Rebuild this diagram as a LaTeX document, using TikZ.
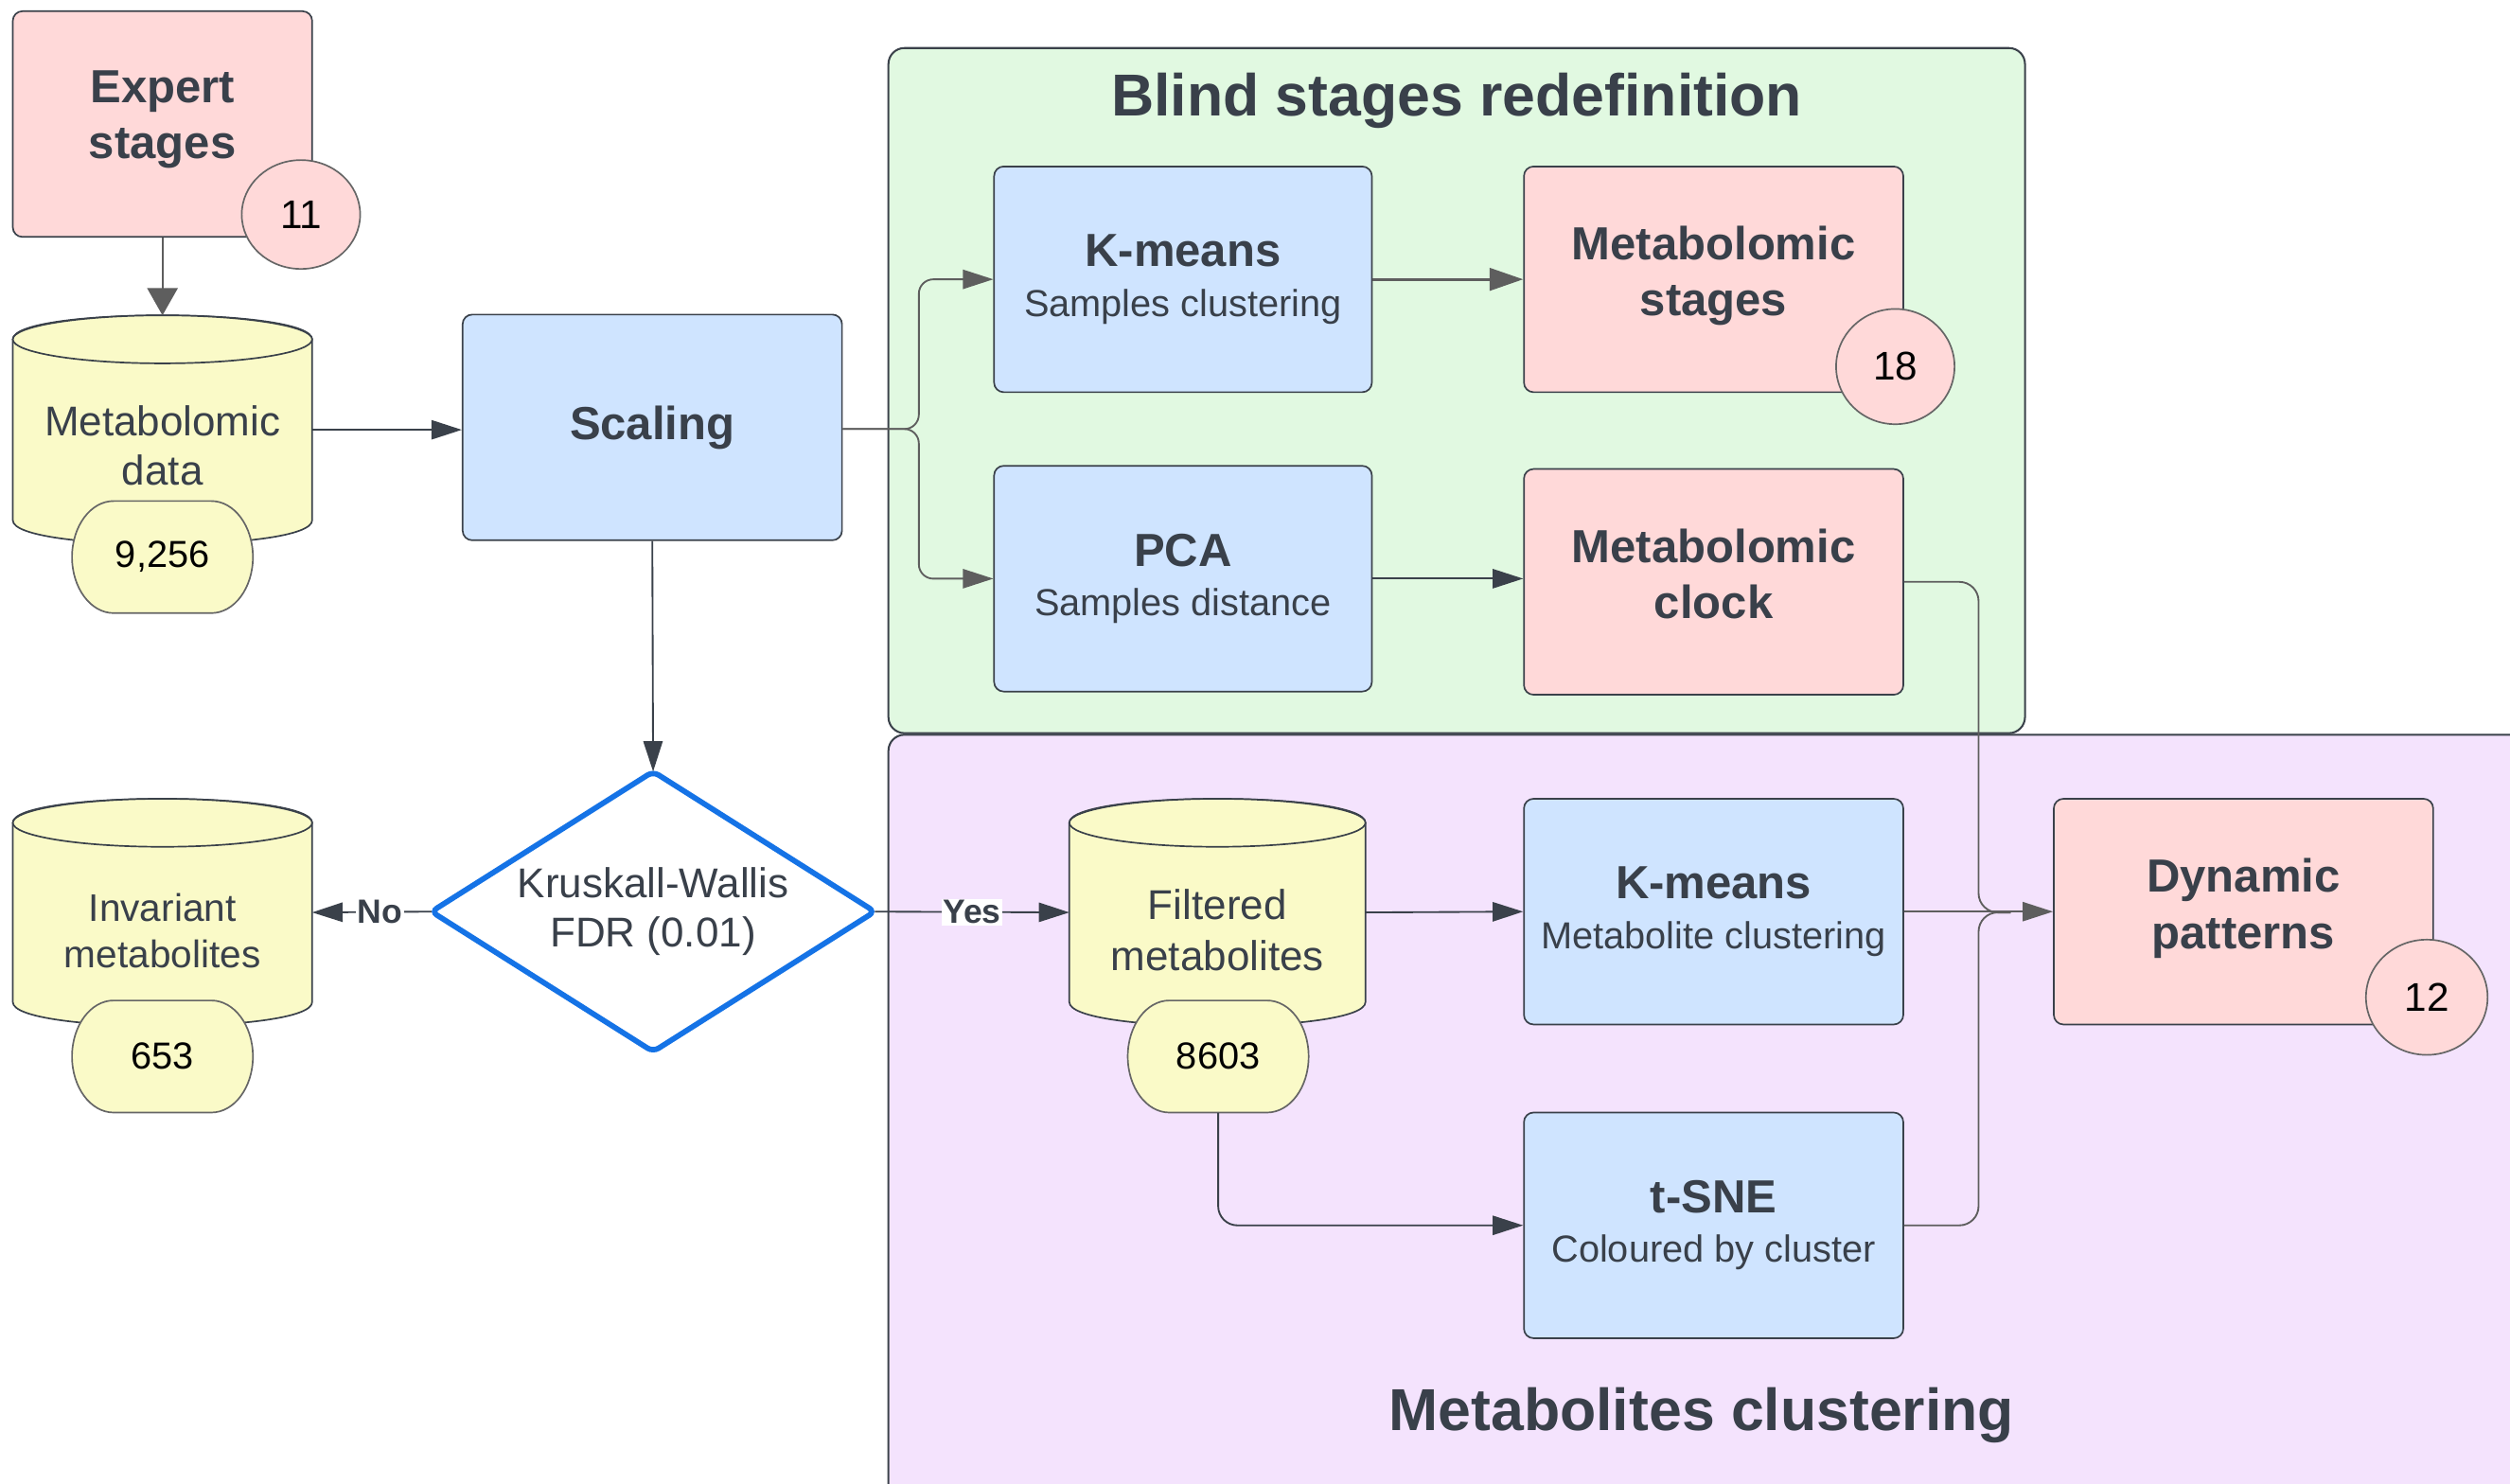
\documentclass[tikz,border=0pt]{standalone}
\usepackage{fontspec}
\setmainfont{Liberation Sans}
\usetikzlibrary{shapes.geometric,arrows.meta}
\definecolor{pinkc}{HTML}{FFD9D9}
\definecolor{bluec}{HTML}{CFE4FF}
\definecolor{yellowc}{HTML}{FAFAC8}
\definecolor{greenc}{HTML}{E1F9E1}
\definecolor{purplec}{HTML}{F4E3FD}
\definecolor{bord}{HTML}{3A414A}
\definecolor{txt}{HTML}{39404A}
\definecolor{grayc}{HTML}{5E5E5E}
\definecolor{badgeb}{HTML}{666666}
\definecolor{kblue}{HTML}{1573E6}
\begin{document}
\begin{tikzpicture}[x=1pt,y=-1pt,
  box/.style={draw=bord, line width=1pt, rounded corners=6pt, minimum width=237pt, minimum height=141pt, inner sep=0pt, align=center, text=txt},
  pinkbox/.style={box, fill=pinkc},
  pinktext/.style={align=center, text=txt, inner sep=0pt, font=\fontsize{29}{35}\selectfont\bfseries},
  bluebox/.style={box, fill=bluec, font=\fontsize{23.5}{31}\selectfont},
  container/.style={draw=bord, line width=1.2pt, rounded corners=10pt, inner sep=0pt},
  ctitle/.style={text=txt, font=\fontsize{37}{44}\selectfont\bfseries},
  cylst/.style={draw=bord, fill=yellowc, line width=1pt},
  cylnode/.style={inner sep=0pt, outer sep=0pt},
  cyltext/.style={text=txt, align=center},
  badgetext/.style={minimum width=113pt, minimum height=70pt, inner sep=0pt, font=\fontsize{23.5}{27}\selectfont, text=black},
  badgeshp/.pic={\path[draw=badgeb, fill=yellowc, line width=1pt] (-30.5,-35) -- (30.5,-35) .. controls (44.86,-35) and (56.5,-19.33) .. (56.5,0) .. controls (56.5,19.33) and (44.86,35) .. (30.5,35) -- (-30.5,35) .. controls (-44.86,35) and (-56.5,19.33) .. (-56.5,0) .. controls (-56.5,-19.33) and (-44.86,-35) .. (-30.5,-35) -- cycle;},
  bubble/.style={ellipse, draw=badgeb, fill=pinkc, line width=1pt, inner sep=0pt, font=\fontsize{25}{29}\selectfont, text=black},
  arr/.style={draw=bord, line width=1.1pt, -{Triangle[length=19pt,width=12pt]}},
  garr/.style={draw=grayc, line width=1.1pt, -{Triangle[length=19pt,width=12pt]}},
  gline/.style={draw=grayc, line width=1.1pt},
  lab/.style={fill=white, text=txt, inner sep=1pt, font=\fontsize{21}{24}\selectfont\bfseries}
]
\useasboundingbox (0,0) rectangle (1568,927);
\clip (0,0) rectangle (1568,927);
\fill[white] (0,0) rectangle (1568,927);

% containers
\node[container, fill=purplec, minimum width=1045pt, minimum height=500pt] (pc) at (1077.5,709) {};
\node[container, fill=greenc, minimum width=710pt, minimum height=428pt] (gc) at (910,244) {};
\node[ctitle] (gt) at (910,63) {Blind stages redefinition};
\node[ctitle] (pt) at (1063,884) {Metabolites clustering};

% expert stages
\node[pinkbox, minimum width=187pt] (exp) at (101.5,77.5) {};
\node[pinktext] (expt) at (101.5,74.5) {Expert\\stages};

% cylinders
\path[cylst] (8,212) -- (8,325) .. controls (8,345) and (195,345) .. (195,325) -- (195,212) .. controls (195,192) and (8,192) .. cycle;
\draw[cylst] (101.5,212) ellipse [x radius=93.5, y radius=15];
\node[cylnode, minimum width=187pt, minimum height=143pt] (md) at (101.5,268.5) {};
\node[cyltext, font=\fontsize{26}{31}\selectfont] (mdt) at (101.5,278.5) {Metabolomic\\data};

\path[cylst] (8,514) -- (8,626) .. controls (8,646) and (195,646) .. (195,626) -- (195,514) .. controls (195,494) and (8,494) .. cycle;
\draw[cylst] (101.5,514) ellipse [x radius=93.5, y radius=15];
\node[cylnode, minimum width=187pt, minimum height=142pt] (inv) at (101.5,570) {};
\node[cyltext, font=\fontsize{24}{29}\selectfont] (invt) at (101.5,581.5) {Invariant\\metabolites};

\path[cylst] (668,514) -- (668,626) .. controls (668,646) and (853,646) .. (853,626) -- (853,514) .. controls (853,494) and (668,494) .. cycle;
\draw[cylst] (760.5,514) ellipse [x radius=92.5, y radius=15];
\node[cylnode, minimum width=185pt, minimum height=142pt] (fm) at (760.5,570) {};
\node[cyltext, font=\fontsize{26}{32}\selectfont] (fmt) at (760.5,581) {Filtered\\metabolites};

% process boxes
\node[bluebox, font=\fontsize{29}{35}\selectfont\bfseries] (scal) at (407.5,267) {Scaling};
\node[bluebox, minimum width=236pt] (km1) at (739,174.5) {{\fontsize{29}{35}\selectfont\bfseries K-means}\\Samples clustering};
\node[pinkbox] (ms) at (1070.5,174.5) {};
\node[pinktext] (mst) at (1070.5,172.5) {Metabolomic\\stages};
\node[bluebox, minimum width=236pt] (pca) at (739,361.5) {{\fontsize{29}{35}\selectfont\bfseries PCA}\\Samples distance};
\node[pinkbox] (mc) at (1070.5,363.5) {};
\node[pinktext] (mct) at (1070.5,358.5) {Metabolomic\\clock};
\node[bluebox] (km2) at (1070.5,569.5) {{\fontsize{29}{35}\selectfont\bfseries K-means}\\Metabolite clustering};
\node[bluebox] (tsne) at (1070.5,765.5) {{\fontsize{29}{35}\selectfont\bfseries t-SNE}\\Coloured by cluster};
\node[pinkbox] (dp) at (1401.5,569.5) {};
\node[pinktext] (dpt) at (1401.5,567.5) {Dynamic\\patterns};

% decision
\node[diamond, aspect=1.583, draw=kblue, fill=white, line width=3.4pt, rounded corners=4pt, minimum width=277pt, minimum height=175pt, inner sep=0pt, outer sep=0pt, align=center, text=txt, font=\fontsize{26}{31}\selectfont] (kw) at (408,569.5) {Kruskall-Wallis\\FDR (0.01)};

% badges
\node[bubble, minimum width=74pt, minimum height=68pt] (b11) at (188,134) {11};
\node[bubble, minimum width=74pt, minimum height=72pt] (b18) at (1184,229) {18};
\node[bubble, minimum width=76pt, minimum height=72pt] (b12) at (1516,623) {12};
\pic at (101.5,348) {badgeshp};
\node[badgetext] (bd1) at (101.5,348) {9,256};
\pic at (101.5,660) {badgeshp};
\node[badgetext] (bd2) at (101.5,660) {653};
\pic at (761,660) {badgeshp};
\node[badgetext] (bd3) at (761,660) {8603};

% connectors
\draw[draw=grayc, line width=1.1pt, -{Triangle[length=17pt,width=19pt]}] (exp.south) -- (md.north);
\draw[arr] (md.east) -- (md.east -| scal.west);
\draw[garr, rounded corners=9pt] (scal.east |- 0,268) -- (574,268) |- (km1.west);
\draw[garr, rounded corners=9pt] (scal.east |- 0,268) -- (574,268) |- (pca.west);
\draw[draw=grayc, line width=1.9pt, -{Triangle[length=21pt,width=14pt]}] (km1.east) -- (ms.west);
\draw[arr] (pca.east) -- (pca.east -| mc.west);
\draw[arr] (scal.south) -- (kw.north);
\draw[arr] (kw.west) -- node[lab, pos=0.43] (no) {No} (inv.east);
\draw[arr] (kw.east) -- node[lab] (yes) {Yes} (fm.west);
\draw[arr] (fm.east) -- (km2.west);
\draw[arr, rounded corners=12pt] (bd3.south) |- (tsne.west);
\draw[garr] (km2.east) -- (dp.west);
\draw[gline, rounded corners=12pt] (mc.east) -- (1236,363.5) -- (1236,570) -- (1256,570);
\draw[gline, rounded corners=12pt] (tsne.east) -- (1236,765.5) -- (1236,570) -- (1256,570);
\end{tikzpicture}
\end{document}
